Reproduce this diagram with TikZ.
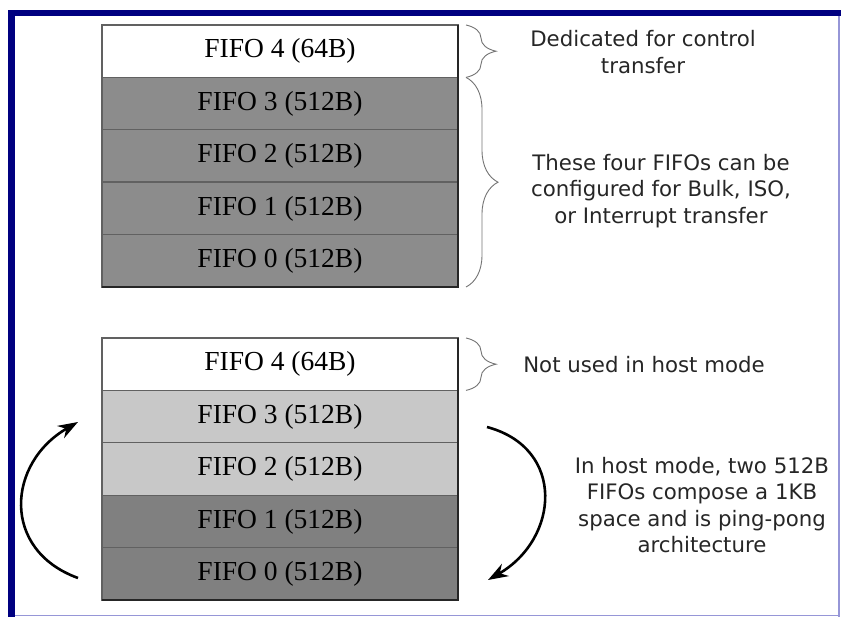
\documentclass[tikz,border=0pt]{standalone}
\usepackage{fontspec}
\setmainfont{Liberation Serif}
\newfontfamily\notefont{DejaVu Sans}
\usetikzlibrary{arrows.meta,decorations.pathreplacing}
\definecolor{framenavy}{RGB}{0,0,128}
\definecolor{frameedge}{RGB}{150,150,215}
\definecolor{fifotop}{RGB}{140,140,140}
\definecolor{fifolight}{RGB}{200,200,200}
\definecolor{fifodark}{RGB}{128,128,128}
\tikzset{
  fifo/.style = {draw=black!62, line width=1.4pt, minimum width=356pt,
    minimum height=52.4pt, inner sep=0pt, outer sep=0pt,
    font=\fontsize{27.5}{30}\selectfont},
  note/.style = {align=center, text=black!85,
    font=\notefont\fontsize{21.3}{26.5}\selectfont},
  fifobrace/.style = {draw=black!55, line width=0.9pt, decorate,
    decoration={brace, amplitude=#1}},
  fifobrace/.default = 26pt,
  pingpong/.style = {line width=2.6pt, -{Stealth[length=20pt,width=14pt]}}
}

\begin{document}
\begin{tikzpicture}[x=1pt, y=1pt]
  \useasboundingbox (0,0) rectangle (841,-617);
  % window frame
  \fill [framenavy] (8,-10) rectangle (841,-16);
  \fill [framenavy] (8,-10) rectangle (15,-617);
  \draw [frameedge, line width=1.5pt] (839,-16) -- (839,-617);
  \draw [frameedge, line width=1.2pt] (15,-615.5) -- (839,-615.5);

  % device mode
  \node [fifo, fill=white]    (T4) at (280, -51.2) {FIFO 4 (64B)};
  \node [fifo, fill=fifotop]  (T3) at (280,-103.6) {FIFO 3 (512B)};
  \node [fifo, fill=fifotop]  (T2) at (280,-156.0) {FIFO 2 (512B)};
  \node [fifo, fill=fifotop]  (T1) at (280,-208.4) {FIFO 1 (512B)};
  \node [fifo, fill=fifotop]  (T0) at (280,-260.8) {FIFO 0 (512B)};
  \draw [black!85, line width=1.5pt] (T4.north east) -- (T0.south east) -- (T0.south west);

  % host mode
  \node [fifo, fill=white]     (B4) at (280,-364.2) {FIFO 4 (64B)};
  \node [fifo, fill=fifolight] (B3) at (280,-416.6) {FIFO 3 (512B)};
  \node [fifo, fill=fifolight] (B2) at (280,-469.0) {FIFO 2 (512B)};
  \node [fifo, fill=fifodark]  (B1) at (280,-521.4) {FIFO 1 (512B)};
  \node [fifo, fill=fifodark]  (B0) at (280,-573.8) {FIFO 0 (512B)};
  \draw [black!85, line width=1.5pt] (B4.north east) -- (B0.south east) -- (B0.south west);

  % braces and notes
  \draw [fifobrace=30pt] ([xshift=8pt]T4.north east) -- ([xshift=8pt]T4.south east);
  \draw [fifobrace=32pt] ([xshift=8pt]T3.north east) -- ([xshift=8pt]T0.south east);
  \draw [fifobrace=30pt] ([xshift=8pt]B4.north east) -- ([xshift=8pt]B4.south east);

  \node [note] (control) at (643, -52) {Dedicated for control\\transfer};
  \node [note] (config)  at (661,-191) {These four FIFOs can be\\configured for Bulk, ISO,\\or Interrupt transfer};
  \node [note] (unused)  at (644,-365) {Not used in host mode};
  \node [note] (host)    at (702,-505) {In host mode, two 512B\\FIFOs compose a 1KB\\space and is ping-pong\\architecture};

  % ping-pong arrows
  \coordinate (LS) at (78,-578);
  \coordinate (LE) at (78,-422);
  \coordinate (RS) at (487,-427);
  \coordinate (RE) at (488,-580);
  \draw [pingpong] (LS) to [out = 160, in = 210, looseness = 1.35] (LE);
  \draw [pingpong] (RS) to [out = -15, in = 30, looseness = 1.37] (RE);
\end{tikzpicture}
\end{document}
